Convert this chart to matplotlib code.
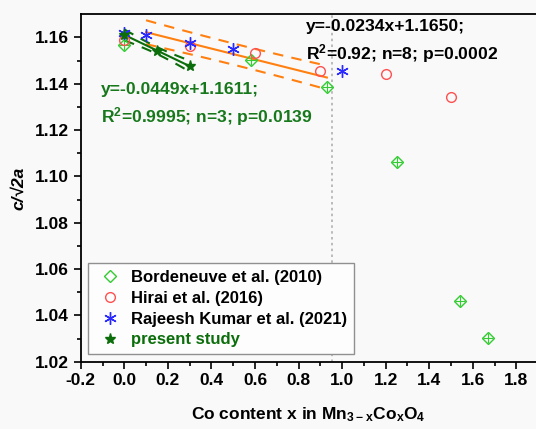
import numpy as np
import matplotlib
matplotlib.use("Agg")
from matplotlib import pyplot as plt

plt.rcParams['font.family'] = ['Liberation Sans', 'DejaVu Sans']
plt.rcParams['font.weight'] = 'bold'
plt.rcParams['mathtext.default'] = 'regular'

# data
bord_x = [0.0, 0.58, 0.93, 1.25, 1.54, 1.67]
bord_y = [1.1568, 1.1503, 1.1388, 1.1062, 1.0464, 1.0304]
hirai_x = [0.0, 0.3, 0.6, 0.9, 1.2, 1.5]
hirai_y = [1.1590, 1.1564, 1.1532, 1.1453, 1.1443, 1.1345]
raj_x = [0.0, 0.1, 0.3, 0.5, 1.0]
raj_y = [1.1619, 1.1611, 1.1575, 1.1551, 1.1457]
pres_x = [0.0, 0.15, 0.3]
pres_y = [1.1612, 1.1542, 1.1477]
x_cut = 0.955

fit1_text = ["y=-0.0234x+1.1650;", "R$^{2}$=0.92; n=8; p=0.0002"]
fit2_text = ["y=-0.0449x+1.1611;", "R$^{2}$=0.9995; n=3; p=0.0139"]

c_bord = '#33cc33'
c_hirai = '#ff5050'
c_raj = '#2a2aff'
c_pres = '#0b6e0b'
c_fit = '#ff8010'
c_txt2 = '#17781c'


def fit_band(x, y, t, pred=False):
    x = np.asarray(x); y = np.asarray(y)
    b, a = np.polyfit(x, y, 1)
    n = len(x)
    res = y - (a + b*x)
    s = np.sqrt(np.sum(res**2)/(n-2))
    xx = np.linspace(x.min(), x.max(), 50)
    yy = a + b*xx
    se = s*np.sqrt(pred + 1.0/n + (xx-x.mean())**2/np.sum((x-x.mean())**2))
    return xx, yy, yy-t*se, yy+t*se


# points used in the orange fit: 0 < x < cut, all literature sets
lx = np.array(bord_x + hirai_x + raj_x)
ly = np.array(bord_y + hirai_y + raj_y)
m = (lx > 0.05) & (lx < x_cut)
f1 = fit_band(lx[m], ly[m], 1.8, pred=True)
f2 = fit_band(pres_x, pres_y, 12.706)

fig = plt.figure(figsize=(5.36, 4.29), dpi=100)
fig.patch.set_facecolor('#f9f9f9')
ax = fig.add_axes([0.1506, 0.1569, 0.8494, 0.8098])
ax.set_facecolor('#f9f9f9')

ax.axvline(x_cut, color='#b0b0b0', ls=(0, (1.5, 2)), lw=1.2, zorder=1)

ax.plot(f1[0], f1[1], color=c_fit, lw=1.5, zorder=2)
ax.plot(f1[0], f1[2], color=c_fit, lw=1.5, ls=(0, (5, 4)), zorder=2)
ax.plot(f1[0], f1[3], color=c_fit, lw=1.5, ls=(0, (5, 4)), zorder=2)
ax.plot(f2[0], f2[1], color=c_pres, lw=1.5, zorder=2)
ax.plot(f2[0], f2[2], color=c_pres, lw=1.5, ls=(0, (5, 4)), zorder=2)
ax.plot(f2[0], f2[3], color=c_pres, lw=1.5, ls=(0, (5, 4)), zorder=2)

ax.plot(bord_x, bord_y, 'D', ms=6.5, mfc='none', mec=c_bord, mew=1, ls='none',
        label='Bordeneuve et al. (2010)', zorder=3)
ax.plot(bord_x, bord_y, '+', ms=7, mec=c_bord, mew=0.8, ls='none', zorder=3)
ax.plot(hirai_x, hirai_y, 'o', ms=7, mfc='none', mec=c_hirai, mew=1, ls='none',
        label='Hirai et al. (2016)', zorder=3)
ax.plot(raj_x, raj_y, marker=(6, 2, 0), ms=9, mec=c_raj, mew=1, ls='none',
        label='Rajeesh Kumar et al. (2021)', zorder=4)
ax.plot(pres_x, pres_y, '*', ms=8, color=c_pres, ls='none',
        label='present study', zorder=5)

ax.text(0.835, 1.1647, fit1_text[0], fontsize=12.6, fontweight='bold', va='center')
ax.text(0.835, 1.1532, fit1_text[1], fontsize=12.6, fontweight='bold', va='center')
ax.text(-0.107, 1.1374, fit2_text[0], fontsize=12.6, fontweight='bold', va='center', color=c_txt2)
ax.text(-0.107, 1.1258, fit2_text[1], fontsize=12.6, fontweight='bold', va='center', color=c_txt2)

ax.set_xlim(-0.2, 1.89)
ax.set_ylim(1.02, 1.17)
ax.set_xticks(np.arange(-0.2, 1.81, 0.2))
ax.set_xticks(np.arange(-0.1, 1.81, 0.2), minor=True)
ax.set_yticks(np.arange(1.02, 1.161, 0.02))
ax.set_yticks(np.arange(1.03, 1.161, 0.02), minor=True)
ax.xaxis.set_major_formatter(matplotlib.ticker.FormatStrFormatter('%.1f'))
ax.yaxis.set_major_formatter(matplotlib.ticker.FormatStrFormatter('%.2f'))
ax.tick_params(which='major', direction='out', length=5, width=1.2, labelsize=12.5)
ax.tick_params(which='minor', direction='out', length=3, width=1.2)
for s in ['left', 'bottom', 'top']:
    ax.spines[s].set_linewidth(1.3)
ax.spines['right'].set_visible(False)

ax.set_xlabel('Co content x in Mn$_{3-x}$Co$_{x}$O$_{4}$', fontsize=12.5, fontweight='bold', labelpad=12)
ax.set_ylabel('c/√2a', fontsize=12.5, fontweight='bold', style='italic', labelpad=6)

leg = ax.legend(loc='lower left', bbox_to_anchor=(0.016, 0.022), borderaxespad=0,
                fontsize=12, fancybox=False, edgecolor='#909090', facecolor='#fdfdfd',
                framealpha=1, handletextpad=0.4, handlelength=1.8, labelspacing=0.35,
                borderpad=0.4)
leg.get_frame().set_linewidth(1)
leg.get_texts()[3].set_color(c_pres)

plt.savefig('out.png', dpi=100, facecolor=fig.get_facecolor())
